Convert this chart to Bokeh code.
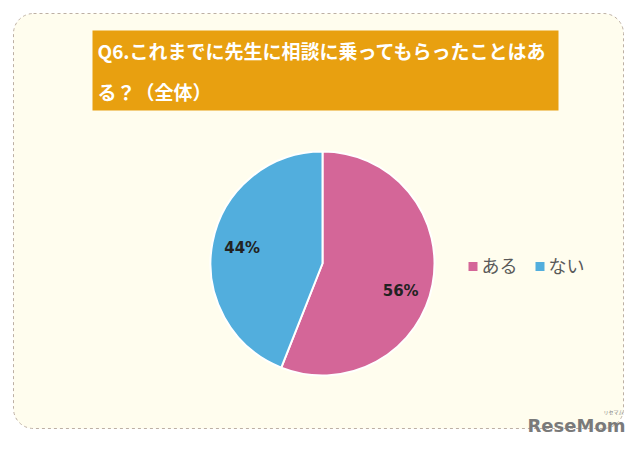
import math
from bokeh.plotting import figure
from bokeh.models import Range1d, ColumnDataSource
from bokeh.core.properties import value
from bokeh.embed import file_html
from bokeh.resources import INLINE

# ---- data ----
categories = ["ある", "ない"]
shares = [56, 44]
colors = ["#D46698", "#52AEDD"]
label_texts = ["56%", "44%"]
title_lines = ["Q6.これまでに先生に相談に乗ってもらったことはあ", "る？（全体）"]

W, H = 640, 449
FONT = value("Noto Sans CJK JP")

p = figure(width=W, height=H, output_backend="svg", toolbar_location=None,
           x_range=Range1d(0, W), y_range=Range1d(H, 0), min_border=0)
p.axis.visible = False
p.grid.visible = False
p.outline_line_color = None
p.background_fill_color = "white"
p.border_fill_color = "white"

# outer rounded dashed panel
p.quad(left=[13], right=[623], top=[13], bottom=[428], fill_color="#FFFDEE",
       line_color="#BDB0A4", line_dash="3 3", line_width=1, border_radius=20)

# title box
p.quad(left=[92], right=[558], top=[30], bottom=[110], fill_color="#E8A010", line_color=None)
p.text(x=[97, 97], y=[50, 91], text=title_lines, text_color="white", text_font=FONT,
       text_font_size="19px", text_font_style="bold", text_baseline="middle", text_align="left")

# pie (angles are screen-space in Bokeh: start at 12 o'clock, go clockwise)
cx, cy, r = 322, 263, 112
label_r = [0.74, 0.73]
label_turn = [-0.15, 0.0]   # extra clockwise turn (radians) of each label, as placed in the original
total = sum(shares)
starts, ends, lx, ly = [], [], [], []
acc = 0.0
for i, v in enumerate(shares):
    f0 = acc / total
    acc += v
    f1 = acc / total
    starts.append(math.pi / 2 - 2 * math.pi * f0)
    ends.append(math.pi / 2 - 2 * math.pi * f1)
    mid = math.pi / 2 - 2 * math.pi * (f0 + f1) / 2 + label_turn[i]
    lx.append(cx + label_r[i] * r * math.cos(mid))
    ly.append(cy - label_r[i] * r * math.sin(mid))

src = ColumnDataSource(dict(start=starts, end=ends, color=colors, lx=lx, ly=ly, lab=label_texts))
p.wedge(x=cx, y=cy, radius=r, start_angle="start", end_angle="end", fill_color="color",
        line_color="white", line_width=2, direction="clock", source=src)
p.text(x="lx", y="ly", text="lab", source=src, text_color="#222222", text_font=value("DejaVu Sans"),
       text_font_size="15px", text_font_style="bold", text_align="center", text_baseline="middle")

# legend
leg_x = [468, 535]
p.rect(x=[v + 4.5 for v in leg_x], y=[266, 266], width=9, height=9, fill_color=colors, line_color=None)
p.text(x=[v + 13 for v in leg_x], y=[264, 264], text=categories, text_color="#595959",
       text_font=FONT, text_font_size="18px", text_align="left", text_baseline="middle")

# watermark
p.text(x=[576], y=[425], text=["ReseMom"], text_color="#7A7A7A", text_font=value("DejaVu Sans"),
       text_font_size="18px", text_font_style="bold", text_align="center", text_baseline="middle")
p.text(x=[613], y=[411], text=["リセマム"], text_color="#7A7A7A", text_font=FONT,
       text_font_size="5px", text_align="center", text_baseline="middle")

open("out.html", "w").write(file_html(p, INLINE))
